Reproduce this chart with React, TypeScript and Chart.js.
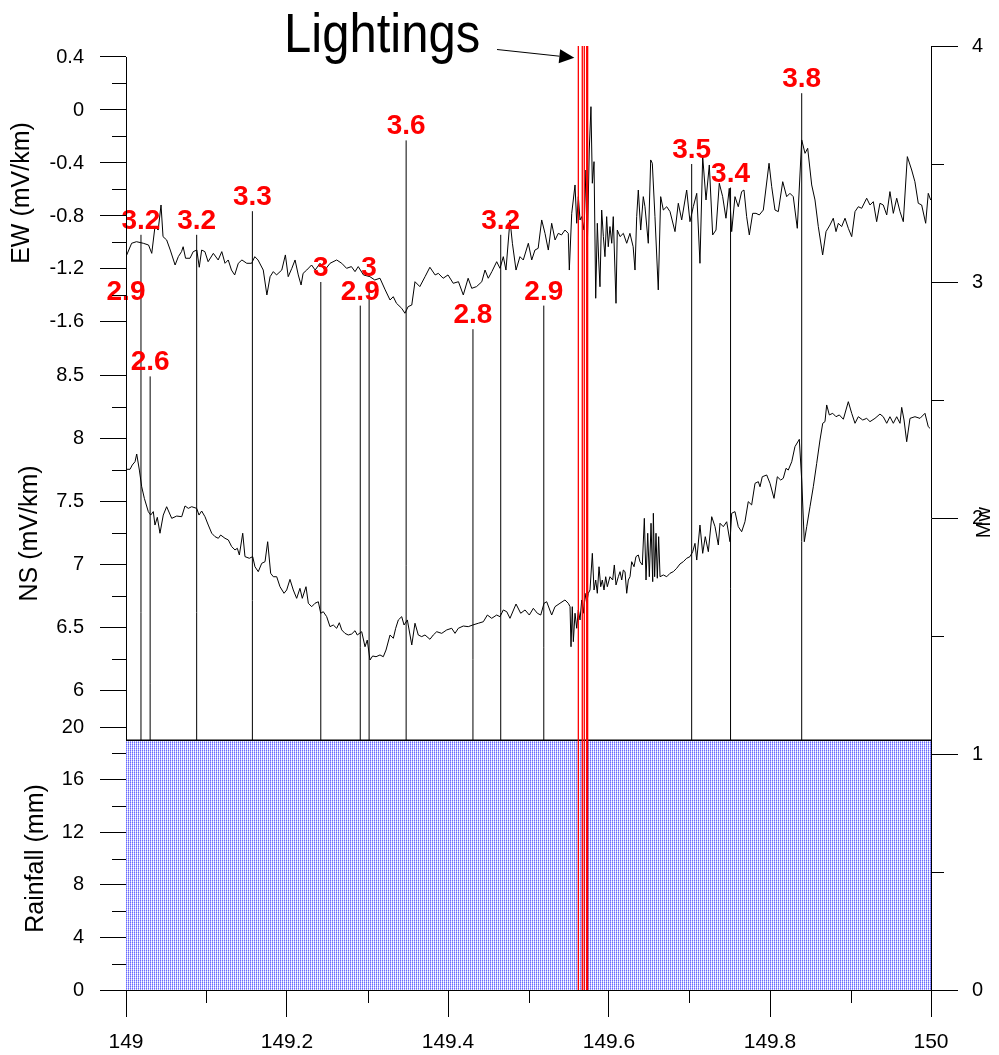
import { useEffect, useRef } from 'react';
import { Chart, registerables } from 'chart.js';
Chart.register(...registerables);

const FONT = '"Liberation Sans", Arial, sans-serif';

// ---- axis ticks ----
const xTicks = [149, 149.2, 149.4, 149.6, 149.8, 150];
const xMinor = [149.1, 149.3, 149.5, 149.7, 149.9];
const ewTicks = [-1.6, -1.2, -0.8, -0.4, 0, 0.4];
const ewMinor = [-1.4, -1.0, -0.6, -0.2, 0.2];
const nsTicks = [6, 6.5, 7, 7.5, 8, 8.5];
const nsMinor = [6.25, 6.75, 7.25, 7.75, 8.25];
const rainTicks = [0, 4, 8, 12, 16, 20];
const rainMinor = [2, 6, 10, 14, 18];
const mwTicks = [0, 1, 2, 3, 4];
const mwMinor = [0.5, 1.5, 2.5, 3.5];

// ---- axis ranges ----
const ewRange = [-1.736, 0.483];
const nsRange = [5.715, 8.777];
const rainRange = [0, 20];
const mwRange = [0, 4];

// ---- earthquakes ----
const quakeTimes = [149.0, 149.0186, 149.03, 149.0878, 149.157, 149.242, 149.291, 149.302, 149.348, 149.431, 149.4655, 149.519, 149.7027, 149.751, 149.8394];
const quakeMags = [2.9, 3.2, 2.6, 3.2, 3.3, 3.0, 2.9, 3.0, 3.6, 2.8, 3.2, 2.9, 3.5, 3.4, 3.8];
const quakeLabels = ['2.9', '3.2', '2.6', '3.2', '3.3', '3', '2.9', '3', '3.6', '2.8', '3.2', '2.9', '3.5', '3.4', '3.8'];

// ---- lightning ----
const lightningTimes = [149.5619, 149.5668, 149.5693, 149.5723, 149.5735];

// ---- rainfall ----
const rainTimes = [149, 150];
const rainValues = [19, 19];

// ---- EW (mV/km) ----
const ewData = [
[149.0,-1.107],[149.007,-1.006],[149.013,-0.994],[149.0215,-1.006],[149.028,-1.019],[149.032,-1.082],[149.036,-0.88],[149.04,-0.906],[149.0435,-0.717],[149.046,-0.956],[149.0505,-0.981],[149.055,-1.057],[149.061,-1.17],[149.065,-1.107],[149.069,-1.069],[149.071,-1.032],[149.074,-1.119],[149.0795,-1.119],[149.0835,-1.069],[149.088,-1.057],[149.091,-1.187],[149.094,-1.057],[149.098,-1.069],[149.102,-1.145],[149.1085,-1.082],[149.1145,-1.132],[149.119,-1.069],[149.123,-1.157],[149.127,-1.132],[149.131,-1.208],[149.135,-1.245],[149.1395,-1.157],[149.144,-1.132],[149.15,-1.157],[149.156,-1.157],[149.16,-1.107],[149.164,-1.132],[149.1705,-1.208],[149.175,-1.396],[149.179,-1.258],[149.183,-1.22],[149.187,-1.245],[149.1935,-1.208],[149.198,-1.094],[149.2015,-1.258],[149.206,-1.195],[149.21,-1.132],[149.214,-1.245],[149.2175,-1.321],[149.22,-1.233],[149.2245,-1.208],[149.2305,-1.17],[149.235,-1.208],[149.241,-1.157],[149.247,-1.208],[149.2535,-1.157],
[149.2617,-1.132],[149.268,-1.157],[149.274,-1.195],[149.28,-1.182],[149.2845,-1.22],[149.2885,-1.182],[149.295,-1.245],[149.303,-1.258],[149.309,-1.283],[149.3155,-1.27],[149.322,-1.358],[149.328,-1.434],[149.332,-1.409],[149.336,-1.459],[149.3425,-1.497],[149.3465,-1.534],[149.3505,-1.484],[149.355,-1.472],[149.359,-1.296],[149.365,-1.333],[149.3715,-1.258],[149.3775,-1.187],[149.384,-1.245],[149.388,-1.233],[149.394,-1.27],[149.4,-1.245],[149.4065,-1.308],[149.413,-1.296],[149.419,-1.396],[149.425,-1.27],[149.4295,-1.346],[149.4355,-1.333],[149.442,-1.296],[149.446,-1.208],[149.45,-1.27],[149.4545,-1.22],[149.4605,-1.145],[149.4646,-1.195],[149.4687,-1.107],[149.472,-1.208],[149.477,-0.83],[149.48,-1.006],[149.4845,-1.208],[149.4894,-1.107],[149.4935,-1.132],[149.4998,-1.006],[149.504,-1.132],[149.508,-1.057],[149.512,-1.044],[149.5164,-0.83],[149.5205,-0.931],[149.5246,-1.057],[149.5288,-0.855],[149.533,-0.981],[149.537,-0.931],[149.541,-0.943],[149.5453,-0.906],[149.5494,-0.931],[149.5507,-1.208],[149.5537,-0.78],[149.5578,-0.566],[149.5599,-0.855],[149.5619,-0.654],[149.564,-0.83],[149.566,-0.805],[149.569,-0.906],[149.5714,-0.453],[149.573,-1.057],[149.5755,-0.302],[149.5776,0.025],[149.5793,-0.553],[149.5814,-0.39],[149.5835,-1.421],[149.5855,-0.855],[149.5872,-1.132],[149.5888,-1.334],[149.5909,-0.755],[149.593,-0.956],[149.595,-1.107],[149.5971,-0.805],[149.5991,-1.032],[149.6012,-0.88],[149.6034,-1.006],[149.6053,-0.805],[149.6087,-1.459],[149.6103,-0.906],[149.6137,-0.956],[149.6178,-0.931],[149.622,-1.006],[149.626,-0.931],[149.63,-1.032],[149.6323,-1.208],[149.6344,-0.805],[149.6364,-0.604],[149.6394,-0.906],[149.6426,-0.654],[149.6447,-0.73],[149.6488,-1.006],[149.6518,-0.377],[149.6538,-0.402],[149.6571,-0.805],[149.6612,-1.358],[149.6642,-0.654],[149.6675,-0.755],[149.6717,-0.73],[149.6758,-0.767],
[149.682,-0.918],[149.6861,-0.704],[149.6903,-0.83],[149.6965,-0.604],[149.7006,-0.843],[149.7047,-0.73],[149.709,-0.629],[149.713,-1.157],[149.7164,-0.352],[149.7205,-0.679],[149.7246,-0.415],[149.7288,-0.943],[149.7329,-0.906],[149.737,-0.553],[149.7412,-0.654],[149.7453,-0.817],[149.7494,-0.591],[149.7524,-0.918],[149.7565,-0.654],[149.7606,-0.73],[149.7648,-0.616],[149.7677,-0.604],[149.771,-0.805],[149.7743,-0.943],[149.7785,-0.78],[149.7826,-0.78],[149.7867,-0.792],[149.7917,-0.755],[149.7988,-0.402],[149.8021,-0.579],[149.8062,-0.755],[149.8103,-0.767],[149.8158,-0.541],[149.8207,-0.654],[149.8248,-0.629],[149.8289,-0.654],[149.8339,-0.893],[149.8394,-0.226],[149.8435,-0.327],[149.8468,-0.289],[149.8518,-0.566],[149.8559,-0.679],[149.86,-0.88],[149.8654,-1.094],[149.8696,-0.918],[149.8745,-0.868],[149.8786,-0.817],[149.882,-0.918],[149.8849,-0.855],[149.889,-0.88],[149.8932,-0.817],[149.8973,-0.893],[149.9015,-0.956],[149.9056,-0.767],[149.9097,-0.73],[149.9139,-0.742],[149.9201,-0.666],[149.9242,-0.717],[149.9283,-0.692],[149.9325,-0.843],[149.9366,-0.704],[149.9407,-0.717],[149.945,-0.792],[149.949,-0.616],[149.9532,-0.78],[149.9574,-0.666],[149.9615,-0.767],[149.9656,-0.843],[149.9706,-0.352],[149.976,-0.453],[149.98,-0.541],[149.9842,-0.704],[149.9884,-0.717],[149.9934,-0.855],[149.9966,-0.629],[149.9996,-0.679]
];

// ---- NS (mV/km) ----
const nsData = [
[149.0008,7.754],[149.005,7.754],[149.0078,7.788],[149.0112,7.814],[149.0133,7.875],[149.0166,7.748],[149.0195,7.616],[149.0228,7.524],[149.0277,7.419],[149.0307,7.392],[149.0339,7.419],[149.036,7.313],[149.0389,7.374],[149.0422,7.248],[149.0463,7.392],[149.0505,7.458],[149.0568,7.366],[149.063,7.384],[149.0692,7.379],[149.0733,7.464],[149.0774,7.445],[149.0816,7.458],[149.0878,7.445],[149.0907,7.392],[149.094,7.424],[149.0981,7.379],[149.1022,7.313],[149.1065,7.248],[149.1106,7.221],[149.1147,7.208],[149.1176,7.234],[149.123,7.208],[149.1271,7.195],[149.1313,7.142],[149.1354,7.116],[149.1383,7.129],[149.1408,7.076],[149.145,7.248],[149.1478,7.063],[149.1532,7.05],[149.1574,7.063],[149.1602,6.983],[149.1643,6.944],[149.1686,7.01],[149.1727,7.023],[149.176,7.181],[149.1797,6.931],[149.183,6.904],[149.1872,6.904],[149.1913,6.825],[149.1963,6.773],[149.1996,6.799],[149.2037,6.883],[149.2078,6.799],[149.212,6.733],[149.2161,6.812],[149.219,6.733],[149.2236,6.825],[149.2265,6.694],[149.2307,6.667],[149.2348,6.694],[149.2389,6.706],[149.2419,6.615],[149.2451,6.627],[149.2493,6.588],[149.2534,6.509],[149.2575,6.522],[149.2617,6.496],[149.265,6.54],[149.268,6.483],[149.272,6.456],[149.2761,6.443],[149.2804,6.451],[149.2845,6.477],[149.2873,6.443],[149.2928,6.469],[149.2969,6.35],[149.2997,6.403],[149.3031,6.245],[149.3064,6.277],[149.3106,6.271],[149.3155,6.285],[149.3196,6.271],[149.323,6.324],[149.328,6.443],[149.3321,6.417],[149.335,6.496],[149.3383,6.562],[149.3425,6.588],[149.3454,6.522],[149.3495,6.562],[149.355,6.364],[149.359,6.536],[149.3631,6.443],[149.3673,6.43],[149.3714,6.443],[149.3776,6.409],[149.3817,6.443],[149.386,6.469],[149.3922,6.456],[149.3984,6.483],[149.4046,6.496],[149.4087,6.456],[149.4128,6.496],[149.419,6.514],[149.4252,6.509],[149.4307,6.522],[149.4377,6.536],[149.4439,6.548],[149.4489,6.601],[149.4543,6.575],[149.4605,6.601],[149.4646,6.588],[149.4687,6.641],[149.473,6.627],[149.477,6.575],[149.4845,6.688],[149.4903,6.615],[149.4957,6.641],[149.501,6.601],[149.506,6.654],[149.511,6.615],[149.5152,6.601],[149.5193,6.694],
[149.5226,6.706],[149.5288,6.601],[149.5329,6.667],[149.5391,6.694],[149.5453,6.72],[149.5494,6.694],[149.5516,6.667],[149.5528,6.35],[149.5544,6.667],[149.5557,6.39],[149.5578,6.615],[149.5599,6.496],[149.5619,6.641],[149.564,6.562],[149.5661,6.72],[149.5681,6.615],[149.5702,6.773],[149.5723,6.694],[149.5743,6.773],[149.5764,6.799],[149.5793,7.089],[149.5814,6.799],[149.5835,6.878],[149.5855,6.773],[149.5876,6.983],[149.5897,6.825],[149.5917,6.878],[149.5938,6.799],[149.5959,6.904],[149.5979,6.825],[149.6012,6.904],[149.6046,6.878],[149.6066,6.997],[149.6087,6.839],[149.6116,6.904],[149.6137,6.944],[149.6158,6.878],[149.6178,6.957],[149.6199,6.944],[149.622,6.773],[149.624,6.878],[149.6261,6.904],[149.6282,7.023],[149.6311,6.983],[149.6335,7.063],[149.6364,7.076],[149.6385,7.023],[149.6414,6.997],[149.6439,7.366],[149.646,6.878],[149.6481,7.248],[149.6501,6.904],[149.6522,7.327],[149.6543,6.865],[149.6551,7.406],[149.6567,6.904],[149.6584,7.248],[149.66,6.892],[149.6617,7.221],[149.6634,6.904],[149.6675,6.918],[149.6717,6.904],[149.6758,6.931],[149.6799,6.944],[149.6841,6.971],[149.6882,7.005],[149.6923,7.023],[149.6965,7.05],[149.7006,7.063],[149.704,7.102],[149.7068,7.168],[149.709,7.036],[149.713,7.313],[149.7164,7.089],[149.7196,7.221],[149.7234,7.102],[149.7276,7.379],[149.7317,7.3],[149.7358,7.155],[149.7379,7.327],[149.742,7.3],[149.7462,7.339],[149.7503,7.181],[149.7524,7.406],[149.7565,7.419],[149.7606,7.3],[149.7648,7.26],[149.7689,7.339],[149.773,7.498],[149.7772,7.472],[149.7814,7.643],[149.7855,7.656],[149.7876,7.616],[149.7904,7.695],[149.7959,7.709],[149.8,7.643],[149.805,7.524],[149.8091,7.695],[149.8133,7.669],[149.8165,7.683],[149.8199,7.762],[149.8227,7.748],[149.827,7.814],[149.831,7.933],[149.8364,7.991],[149.8394,7.669],[149.8426,7.181],[149.8456,7.3],[149.8497,7.458],[149.8538,7.616],[149.858,7.801],[149.8621,7.986],[149.8655,8.118],[149.8683,8.131],[149.8704,8.263],[149.8737,8.184],[149.8779,8.197],[149.882,8.17],[149.8861,8.184],[149.8911,8.15],[149.8973,8.289],[149.9015,8.197],[149.9056,8.118],[149.9097,8.17],[149.9152,8.144],[149.9201,8.157],[149.9242,8.131],[149.9304,8.157],[149.9366,8.191],[149.9407,8.17],[149.945,8.118],[149.949,8.17],[149.9532,8.118],[149.9574,8.17],[149.9615,8.118],[149.9636,8.244],[149.9665,8.144],[149.9698,7.972],[149.9739,8.157],[149.9801,8.17],[149.9863,8.157],[149.9925,8.197],[149.9966,8.091],[149.9988,8.078]
];

const fmt = (v: number) => String(Math.round(v * 100) / 100);

function leftScale(range: number[], ticks: number[], title: string, titlePad: number, weight: number, stackWeight: number, showBorder: boolean) {
  return {
    type: 'linear',
    position: 'left',
    stack: 'left',
    stackWeight,
    weight,
    min: range[0],
    max: range[1],
    afterBuildTicks: (s: any) => { s.ticks = ticks.map((v) => ({ value: v })); },
    afterFit: (s: any) => { s.width = 126; },
    grid: { drawOnChartArea: false, drawTicks: true, tickLength: 26, tickColor: '#000', tickWidth: 1 },
    border: { display: showBorder, color: '#000', width: 1 },
    ticks: { autoSkip: false, padding: 16, color: '#000', font: { family: FONT, size: 20 }, callback: (v: number) => fmt(v) },
    title: { display: true, text: title, color: '#000', font: { family: FONT, size: 25 }, padding: { top: titlePad, bottom: 0 } },
  };
}

const overlayPlugin = {
  id: 'overlay',
  afterDatasetsDraw(chart: any) {
    const { ctx, scales } = chart;
    const x = scales.x;
    const mw = scales.yMw;
    ctx.save();
    // magnitude labels
    ctx.fillStyle = '#ff0000';
    ctx.font = `bold 28px ${FONT}`;
    ctx.textAlign = 'center';
    ctx.textBaseline = 'alphabetic';
    quakeTimes.forEach((t, i) => {
      ctx.fillText(quakeLabels[i], x.getPixelForValue(t), mw.getPixelForValue(quakeMags[i]) - 6);
    });
    // "Lightings" annotation
    ctx.fillStyle = '#000';
    ctx.save();
    ctx.font = `56px ${FONT}`;
    ctx.textAlign = 'left';
    ctx.translate(284, 52);
    ctx.scale(0.875, 1);
    ctx.fillText('Lightings', 0, 0);
    ctx.restore();
    const tipX = x.getPixelForValue(lightningTimes[0]) - 4;
    const tipY = mw.getPixelForValue(3.95);
    const sx = 497, sy = 49.5;
    const dx = tipX - sx, dy = tipY - sy;
    const len = Math.hypot(dx, dy);
    const ux = dx / len, uy = dy / len;
    const bx = tipX - ux * 15, by = tipY - uy * 15;
    ctx.strokeStyle = '#000';
    ctx.lineWidth = 1;
    ctx.beginPath();
    ctx.moveTo(sx, sy);
    ctx.lineTo(bx, by);
    ctx.stroke();
    ctx.beginPath();
    ctx.moveTo(tipX, tipY);
    ctx.lineTo(bx - uy * 7, by + ux * 7);
    ctx.lineTo(bx + uy * 7, by - ux * 7);
    ctx.closePath();
    ctx.fill();
    ctx.restore();
  },
  afterDraw(chart: any) {
    const { ctx, scales } = chart;
    ctx.save();
    ctx.strokeStyle = '#000';
    ctx.lineWidth = 1;
    ctx.beginPath();
    // EW axis line starts at its top tick
    const ew = scales.yEW;
    const bxl = Math.round(ew.right - 0.5) + 0.5;
    ctx.moveTo(bxl, Math.round(ew.getPixelForValue(ewTicks[ewTicks.length - 1])));
    ctx.lineTo(bxl, ew.bottom);
    const leftMinor = (s: any, vals: number[]) => {
      vals.forEach((v) => {
        const y = Math.round(s.getPixelForValue(v)) + 0.5;
        ctx.moveTo(s.right - 14, y);
        ctx.lineTo(s.right, y);
      });
    };
    leftMinor(scales.yEW, ewMinor);
    leftMinor(scales.yNS, nsMinor);
    leftMinor(scales.yRain, rainMinor);
    mwMinor.forEach((v) => {
      const y = Math.round(scales.yMw.getPixelForValue(v)) + 0.5;
      ctx.moveTo(scales.yMw.left, y);
      ctx.lineTo(scales.yMw.left + 13, y);
    });
    xMinor.forEach((v) => {
      const px = Math.round(scales.x.getPixelForValue(v)) + 0.5;
      ctx.moveTo(px, scales.x.top);
      ctx.lineTo(px, scales.x.top + 13);
    });
    ctx.stroke();
    // Mw title
    ctx.fillStyle = '#000';
    ctx.font = `20px ${FONT}`;
    ctx.textAlign = 'center';
    ctx.textBaseline = 'middle';
    ctx.translate(984, scales.yMw.getPixelForValue(1.98));
    ctx.rotate(-Math.PI / 2);
    ctx.fillText('Mw', 0, 0);
    ctx.restore();
  },
};

export default function App() {
  const ref = useRef<HTMLCanvasElement | null>(null);
  useEffect(() => {
    const canvas = ref.current;
    if (!canvas) return;
    const pc = document.createElement('canvas');
    pc.width = 2;
    pc.height = 2;
    const g = pc.getContext('2d')!;
    g.fillStyle = '#ffffff';
    g.fillRect(0, 0, 2, 2);
    g.fillStyle = '#6c6cff';
    g.fillRect(0, 0, 1, 1);
    g.fillStyle = '#a4a4ff';
    g.fillRect(0, 1, 1, 1);
    g.fillStyle = '#dcdfff';
    g.fillRect(1, 0, 1, 1);
    const pattern = canvas.getContext('2d')!.createPattern(pc, 'repeat');

    const stemPoints = quakeTimes.flatMap((t, i) => [{ x: t, y: 0 }, { x: t, y: quakeMags[i] }, { x: t, y: null }]);
    const lightPoints = lightningTimes.flatMap((t) => [{ x: t, y: mwRange[0] }, { x: t, y: mwRange[1] }, { x: t, y: null }]);

    const chart = new Chart(canvas, {
      type: 'line',
      data: {
        datasets: [
          { data: lightPoints, yAxisID: 'yMw', borderColor: '#ff0000', borderWidth: 1.3, order: 0, fill: false },
          { data: rainTimes.map((t, i) => ({ x: t, y: rainValues[i] })), yAxisID: 'yRain', borderColor: '#000', borderWidth: 1.5, backgroundColor: pattern, fill: 'origin', order: 1 },
          { data: ewData.map(([x, y]) => ({ x, y })), yAxisID: 'yEW', borderColor: '#000', borderWidth: 1, order: 2, fill: false },
          { data: nsData.map(([x, y]) => ({ x, y })), yAxisID: 'yNS', borderColor: '#000', borderWidth: 1, order: 3, fill: false },
          { data: stemPoints, yAxisID: 'yMw', borderColor: '#000', borderWidth: 1, order: 4, fill: false },
        ],
      } as any,
      options: {
        responsive: true,
        maintainAspectRatio: false,
        animation: false,
        events: [],
        layout: { padding: { top: 46, left: 0, right: 0, bottom: 0 } },
        elements: { point: { radius: 0 }, line: { tension: 0 } },
        plugins: { legend: { display: false }, tooltip: { enabled: false }, title: { display: false } },
        scales: {
          x: {
            type: 'linear',
            position: 'bottom',
            min: 149,
            max: 150,
            afterBuildTicks: (s: any) => { s.ticks = xTicks.map((v) => ({ value: v })); },
            afterFit: (s: any) => { s.height = 65; },
            grid: { drawOnChartArea: false, tickLength: 27, tickColor: '#000' },
            border: { color: '#000', width: 1 },
            ticks: { autoSkip: false, maxRotation: 0, padding: 13, color: '#000', font: { family: FONT, size: 21 }, callback: (v: number) => fmt(v) },
          },
          yEW: leftScale(ewRange, ewTicks, 'EW (mV/km)', 7, 3, 294, false),
          yNS: leftScale(nsRange, nsTicks, 'NS (mV/km)', 15, 2, 387, true),
          yRain: leftScale(rainRange, rainTicks, 'Rainfall (mm)', 21, 1, 263, true),
          yMw: {
            type: 'linear',
            position: 'right',
            min: mwRange[0],
            max: mwRange[1],
            afterBuildTicks: (s: any) => { s.ticks = mwTicks.map((v) => ({ value: v })); },
            afterFit: (s: any) => { s.width = 68; },
            grid: { drawOnChartArea: false, tickLength: 27, tickColor: '#000' },
            border: { color: '#000', width: 1 },
            ticks: { autoSkip: false, padding: 14, color: '#000', font: { family: FONT, size: 20 }, callback: (v: number) => fmt(v) },
          },
        } as any,
      },
      plugins: [overlayPlugin],
    });
    return () => chart.destroy();
  }, []);

  return (
    <div style={{ position: 'absolute', left: 0, top: 0, width: 999, height: 1055, background: '#fff' }}>
      <canvas ref={ref} />
    </div>
  );
}
